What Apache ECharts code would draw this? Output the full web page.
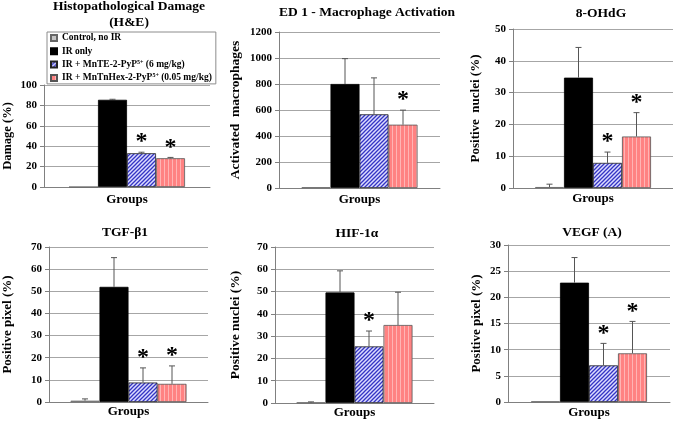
<!DOCTYPE html>
<html>
<head>
<meta charset="utf-8">
<script src="https://cdn.jsdelivr.net/npm/echarts@6/dist/echarts.min.js"></script>
<style>
  html, body { margin: 0; padding: 0; background: #fff; }
  #chart { width: 673px; height: 421px; }
</style>
</head>
<body>
<div id="chart"></div>
<script>
// groups (legend) and panel texts
const groups = [
  'Control, no IR',
  'IR only',
  'IR + MnTE-2-PyP5+ (6 mg/kg)',
  'IR + MnTnHex-2-PyP5+ (0.05 mg/kg)',
]
const category = ['Groups']
const panelTitles = [
  'Histopathological Damage\n(H&E)',
  'ED 1 - Macrophage Activation',
  '8-OHdG',
  'TGF-β1',
  'HIF-1α',
  'VEGF (A)',
]
const yNames = [
  'Damage (%)',
  'Activated  macrophages',
  'Positive  nuclei (%)',
  'Positive pixel (%)',
  'Positive nuclei (%)',
  'Positive pixel (%)',
]
const yMax = [100, 1200, 50, 70, 70, 30]
const yStep = [20, 200, 10, 10, 10, 5]

// means and error bars (control, IR only, MnTE, MnTnHex)
const damage = [0, 85.5, 33.1, 28.2]
const damageErr = [0, 0.5, 1, 0.8]
const ed1 = [5, 800, 567, 487]
const ed1Err = [0, 195, 280, 112]
const ohdg = [0.3, 34.7, 7.9, 16.2]
const ohdgErr = [0.9, 9.5, 3.4, 7.5]
const tgf = [0.6, 52, 8.8, 8.2]
const tgfErr = [0.8, 13.2, 6.6, 8.1]
const hif = [0.2, 49.6, 25.4, 35]
const hifErr = [0.3, 9.7, 6.9, 14.7]
const vegf = [0.1, 22.8, 7.0, 9.3]
const vegfErr = [0, 4.8, 4.2, 6.1]
// significance marks (*)
const sig = [
  [0, 0, 1, 1],
  [0, 0, 0, 1],
  [0, 0, 1, 1],
  [0, 0, 1, 1],
  [0, 0, 1, 0],
  [0, 0, 1, 1],
]

const means = [damage, ed1, ohdg, tgf, hif, vegf]
const errs = [damageErr, ed1Err, ohdgErr, tgfErr, hifErr, vegfErr]

const font = "'Liberation Serif', 'Times New Roman', serif"
const barW = 29

// panel placement
const layout = [
  { grid: { left: 42, top: 85, width: 168, height: 102 }, tx: 129, ty: -1, gap: 30, nameSize: 12.5, lblMargin: 6 },
  { grid: { left: 279, top: 32, width: 161, height: 156 }, tx: 367, ty: 5, gap: 36, nameSize: 13.5, lblMargin: 5 },
  { grid: { left: 513, top: 29, width: 160, height: 159 }, tx: 601, ty: 6, gap: 31, nameSize: 13, lblMargin: 4 },
  { grid: { left: 47, top: 247, width: 161, height: 155 }, tx: 125, ty: 225, gap: 35, nameSize: 13, lblMargin: 3 },
  { grid: { left: 275, top: 247, width: 159, height: 156 }, tx: 357, ty: 226, gap: 32, nameSize: 13.5, lblMargin: 3 },
  { grid: { left: 508, top: 245, width: 162, height: 157 }, tx: 592, ty: 225, gap: 25, nameSize: 13, lblMargin: 4 },
]

// fill patterns
function makePattern(w, h, bg, paint) {
  const c = document.createElement('canvas')
  c.width = w
  c.height = h
  const ctx = c.getContext('2d')
  ctx.fillStyle = bg
  ctx.fillRect(0, 0, w, h)
  paint(ctx)
  return c
}
const blueHatch = makePattern(4, 4, '#dcdcff', (ctx) => {
  ctx.strokeStyle = '#3434c4'
  ctx.lineWidth = 1.3
  ctx.beginPath()
  ctx.moveTo(-1, 5); ctx.lineTo(5, -1)
  ctx.moveTo(-3, 3); ctx.lineTo(3, -3)
  ctx.moveTo(1, 7); ctx.lineTo(7, 1)
  ctx.stroke()
})
const redStripe = makePattern(4, 4, '#ff8282', (ctx) => {
  ctx.fillStyle = '#ffb4b4'
  ctx.fillRect(0, 0, 1, 4)
})

const groupStyles = [
  { color: '#c4c4c4', borderColor: '#666', borderWidth: 0.8 },
  { color: '#000', borderColor: '#000', borderWidth: 0.8 },
  { color: { image: blueHatch, repeat: 'repeat' }, borderColor: '#222', borderWidth: 0.8 },
  { color: { image: redStripe, repeat: 'repeat' }, borderColor: '#555', borderWidth: 0.8 },
]

const grid = []
const xAxis = []
const yAxis = []
const title = []
const series = []

layout.forEach((p, k) => {
  grid.push(p.grid)
  title.push({
    text: panelTitles[k],
    left: p.tx,
    top: p.ty,
    textAlign: 'center',
    padding: 0,
    textStyle: { fontFamily: font, fontWeight: 'bold', fontSize: 13.5, lineHeight: 16, color: '#000' },
  })
  xAxis.push({
    type: 'category',
    gridIndex: k,
    data: category,
    axisLine: { lineStyle: { color: '#808080', width: 1 } },
    axisTick: { show: false },
    axisLabel: { fontFamily: font, fontWeight: 'bold', fontSize: 13, color: '#000', margin: p.lblMargin },
  })
  yAxis.push({
    type: 'value',
    gridIndex: k,
    min: 0,
    max: yMax[k],
    interval: yStep[k],
    name: yNames[k],
    nameLocation: 'middle',
    nameGap: p.gap,
    nameTextStyle: { fontFamily: font, fontWeight: 'bold', fontSize: p.nameSize, color: '#000' },
    axisLine: { show: true, lineStyle: { color: '#808080', width: 1 } },
    axisTick: { show: true, length: 4, lineStyle: { color: '#808080' } },
    axisLabel: {
      fontFamily: font,
      fontWeight: 'bold',
      fontSize: 11,
      color: '#000',
      margin: 7,
      formatter: (v) => String(v),
    },
    splitLine: { lineStyle: { color: '#a6a6a6', width: 1 } },
  })

  groups.forEach((g, i) => {
    series.push({
      type: 'bar',
      name: g,
      xAxisIndex: k,
      yAxisIndex: k,
      barWidth: barW,
      barGap: '0%',
      itemStyle: groupStyles[i],
      emphasis: { disabled: true },
      data: [means[k][i]],
    })
  })

  // error bars and significance stars
  series.push({
    type: 'custom',
    name: 'error',
    xAxisIndex: k,
    yAxisIndex: k,
    z: 5,
    silent: true,
    encode: { x: 0, y: 2 },
    data: means[k].map((v, i) => [0, i, v, errs[k][i], sig[k][i]]),
    renderItem: (params, api) => {
      const i = api.value(1)
      const v = api.value(2)
      const e = api.value(3)
      const base = api.coord([0, v])
      const top = api.coord([0, v + e])
      const x = base[0] + (i - 1.5) * barW
      const style = { stroke: '#555', lineWidth: 1 }
      const children = []
      if (e > 0) {
        children.push({ type: 'line', shape: { x1: x, y1: base[1], x2: x, y2: top[1] }, style })
        children.push({ type: 'line', shape: { x1: x - 3, y1: top[1], x2: x + 3, y2: top[1] }, style })
      }
      if (api.value(4)) {
        children.push({
          type: 'text',
          style: {
            x: x,
            y: top[1] - 10,
            text: '*',
            fill: '#000',
            font: `bold 24px ${font}`,
            textAlign: 'center',
            textVerticalAlign: 'middle',
          },
        })
      }
      return { type: 'group', children }
    },
  })
})

const chart = echarts.init(document.getElementById('chart'))
chart.setOption({
  animation: false,
  backgroundColor: '#fff',
  title,
  grid,
  xAxis,
  yAxis,
  legend: {
    data: groups,
    orient: 'vertical',
    left: 47,
    top: 32,
    icon: 'rect',
    itemWidth: 6,
    itemHeight: 6,
    itemGap: 3.3,
    padding: [1, 4, 1, 3],
    borderColor: '#8c8c8c',
    borderWidth: 1,
    selectedMode: false,
    formatter: (name) => name.replace('5+', '{sup|5+}'),
    textStyle: {
      fontFamily: font,
      fontWeight: 'bold',
      fontSize: 9.5,
      lineHeight: 10,
      color: '#000',
      rich: {
        sup: { fontFamily: font, fontWeight: 'bold', fontSize: 6, lineHeight: 6, verticalAlign: 'top' },
      },
    },
  },
  series,
})
</script>
</body>
</html>
